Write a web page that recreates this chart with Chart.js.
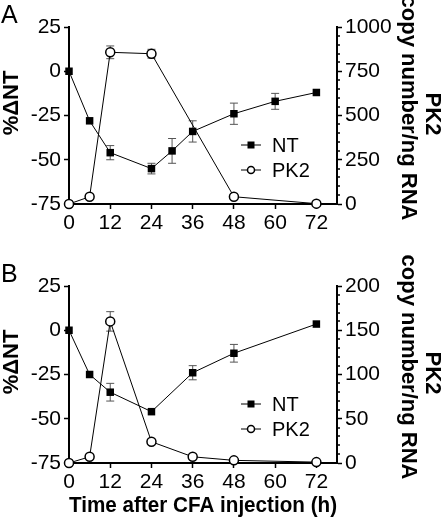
<!DOCTYPE html>
<html>
<head>
<meta charset="utf-8">
<script src="https://cdn.jsdelivr.net/npm/chart.js@4.4.1/dist/chart.umd.min.js"></script>
<style>
    body { margin: 0; background: #fff; }
    #wrap { position: relative; width: 445px; height: 525px; overflow: hidden; font-family: 'Liberation Sans', Arial, sans-serif; }
    .panel { position: absolute; left: 0; }
    .lbl { position: absolute; left: 1px; font-size: 25px; line-height: 25px; color: #000; }
</style>
</head>
<body>
<div id="wrap">
    <canvas id="chartA" class="panel" width="445" height="250" style="top:0"></canvas>
    <canvas id="chartB" class="panel" width="445" height="275" style="top:250px"></canvas>
    <div class="lbl" style="top:2px">A</div>
    <div class="lbl" style="top:261px">B</div>
</div>
<script>
// Panel A
const ntTimeA = [0, 6, 12, 24, 30, 36, 48, 60, 72];
const ntA = [0, -28, -46, -55, -45, -34, -24, -17, -12];
const ntErrA = [0, 0, 4, 3, 7, 6, 6, 4.5, 0];
const pk2TimeA = [0, 6, 12, 24, 48, 72];
const pk2A = [0, 41, 857, 849, 41, 2];
const pk2ErrA = [0, 0, 36, 25, 0, 0];

// Panel B
const ntTimeB = [0, 6, 12, 24, 36, 48, 72];
const ntB = [0, -25, -35, -46, -24, -13, 3.5];
const ntErrB = [0, 0, 5, 0, 4, 5, 0];
const pk2TimeB = [0, 6, 12, 24, 36, 48, 72];
const pk2B = [0, 7, 160, 24, 7, 3, 1];
const pk2ErrB = [0, 0, 11, 0, 0, 0, 0];

const xTicks = [0, 12, 24, 36, 48, 60, 72];
const seriesNames = ['NT', 'PK2'];
const leftTitle = '%\u0394NT';
const rightTitle = ['PK2', 'copy number/ng RNA'];
const xTitle = 'Time after CFA injection (h)';

Chart.defaults.font.family = "'Liberation Sans', Arial, sans-serif";
Chart.defaults.color = '#000';

// error bars drawn under the markers
const errorBars = {
    id: 'errorBars',
    beforeDatasetsDraw(chart) {
        const ctx = chart.ctx;
        ctx.save();
        ctx.strokeStyle = '#555';
        ctx.lineWidth = 1;
        chart.data.datasets.forEach((ds, i) => {
            const meta = chart.getDatasetMeta(i);
            const yScale = chart.scales[ds.yAxisID];
            ds.data.forEach((pt, j) => {
                const err = ds.errors[j];
                if (!err) return;
                const x = meta.data[j].x;
                const yTop = yScale.getPixelForValue(pt.y + err);
                const yBot = yScale.getPixelForValue(pt.y - err);
                ctx.beginPath();
                ctx.moveTo(x, yTop); ctx.lineTo(x, yBot);
                ctx.moveTo(x - 4, yTop); ctx.lineTo(x + 4, yTop);
                ctx.moveTo(x - 4, yBot); ctx.lineTo(x + 4, yBot);
                ctx.stroke();
            });
        });
        ctx.restore();
    }
};

// minor ticks on the right axis
const minorTicks = {
    id: 'minorTicks',
    afterDraw(chart, args, opts) {
        const s = chart.scales.y2;
        const ctx = chart.ctx;
        ctx.save();
        ctx.strokeStyle = '#000';
        ctx.lineWidth = 1.5;
        for (let v = s.min; v <= s.max; v += opts.step) {
            if (v % opts.major === 0) continue;
            const y = Math.round(s.getPixelForValue(v));
            ctx.beginPath();
            ctx.moveTo(chart.chartArea.right, y);
            ctx.lineTo(chart.chartArea.right + 3, y);
            ctx.stroke();
        }
        ctx.restore();
    }
};

// y axis titles, sitting a bit above the middle of the axes
const axisTitles = {
    id: 'axisTitles',
    afterDraw(chart) {
        const ctx = chart.ctx;
        const a = chart.chartArea;
        const put = (text, x, y, rot) => {
            ctx.save();
            ctx.translate(x, y);
            ctx.rotate(rot);
            ctx.fillText(text, 0, 0);
            ctx.restore();
        };
        ctx.save();
        ctx.font = "bold 22px 'Liberation Sans', Arial, sans-serif";
        ctx.fillStyle = '#000';
        ctx.textAlign = 'center';
        ctx.textBaseline = 'middle';
        put(leftTitle, 12, a.top + 76, -Math.PI / 2);
        put(rightTitle[0], 432, a.top + 87, Math.PI / 2);
        put(rightTitle[1], 408, a.top + 81, Math.PI / 2);
        ctx.restore();
    }
};

// legend inside the plot area
const insideLegend = {
    id: 'insideLegend',
    afterDraw(chart) {
        const ctx = chart.ctx;
        const a = chart.chartArea;
        ctx.save();
        chart.data.datasets.forEach((ds, i) => {
            const y = a.top + 118 + i * 25;
            const cx = a.left + 182;
            ctx.strokeStyle = '#000';
            ctx.lineWidth = 1;
            ctx.beginPath();
            ctx.moveTo(cx - 10, y); ctx.lineTo(cx + 10, y);
            ctx.stroke();
            if (ds.pointStyle === 'rect') {
                ctx.fillStyle = '#000';
                ctx.fillRect(cx - 3.5, y - 3.5, 7, 7);
            } else {
                ctx.fillStyle = '#fff';
                ctx.lineWidth = 1.5;
                ctx.beginPath();
                ctx.arc(cx, y, 3.5, 0, Math.PI * 2);
                ctx.fill();
                ctx.stroke();
            }
            ctx.fillStyle = '#000';
            ctx.font = "20px 'Liberation Sans', Arial, sans-serif";
            ctx.textBaseline = 'middle';
            ctx.fillText(ds.label, a.left + 203, y + 1);
        });
        ctx.restore();
    }
};

function makeChart(canvasId, nt, ntTime, ntErr, pk2, pk2Time, pk2Err, rightMax, rightStep, rightMinor, topPad, xHeight, showXTitle) {
    const axisGrid = { drawOnChartArea: false, color: '#000', tickLength: 5, tickWidth: 1.5 };
    const axisBorder = { color: '#000', width: 2 };
    const tickFont = { size: 21 };
    return new Chart(document.getElementById(canvasId).getContext('2d'), {
        type: 'line',
        data: {
            datasets: [
                {
                    label: seriesNames[0],
                    data: ntTime.map((t, i) => ({ x: t, y: nt[i] })),
                    errors: ntErr,
                    yAxisID: 'y',
                    borderColor: '#000',
                    borderWidth: 1,
                    pointStyle: 'rect',
                    pointRadius: 5.3,
                    pointBackgroundColor: '#000',
                    pointBorderColor: '#000',
                    pointBorderWidth: 0,
                    clip: false
                },
                {
                    label: seriesNames[1],
                    data: pk2Time.map((t, i) => ({ x: t, y: pk2[i] })),
                    errors: pk2Err,
                    yAxisID: 'y2',
                    borderColor: '#000',
                    borderWidth: 1,
                    pointStyle: 'circle',
                    pointRadius: 4.5,
                    pointBackgroundColor: '#fff',
                    pointBorderColor: '#000',
                    pointBorderWidth: 1.5,
                    clip: false
                }
            ]
        },
        options: {
            responsive: false,
            animation: false,
            layout: { padding: { top: topPad, left: 0, right: 0, bottom: 0 } },
            plugins: {
                legend: { display: false },
                tooltip: { enabled: false },
                minorTicks: { step: rightMinor, major: rightStep }
            },
            scales: {
                x: {
                    type: 'linear',
                    min: 0,
                    max: 78,
                    afterBuildTicks: s => { s.ticks = xTicks.map(v => ({ value: v })); },
                    afterFit: s => { s.height = xHeight; },
                    grid: axisGrid,
                    border: axisBorder,
                    ticks: { font: tickFont, padding: 2, maxRotation: 0, autoSkip: false },
                    title: {
                        display: showXTitle,
                        text: xTitle,
                        font: { size: 22, weight: 'bold' },
                        padding: { top: 0, bottom: 6 }
                    }
                },
                y: {
                    position: 'left',
                    min: -75,
                    max: 25,
                    ticks: { stepSize: 25, font: tickFont, padding: 3 },
                    afterFit: s => { s.width = 69; },
                    grid: axisGrid,
                    border: axisBorder
                },
                y2: {
                    position: 'right',
                    min: 0,
                    max: rightMax,
                    ticks: { stepSize: rightStep, font: tickFont, padding: 3, callback: v => String(v) },
                    afterFit: s => { s.width = 108; },
                    grid: axisGrid,
                    border: axisBorder
                }
            }
        },
        plugins: [errorBars, minorTicks, axisTitles, insideLegend]
    });
}

makeChart('chartA', ntA, ntTimeA, ntErrA, pk2A, pk2TimeA, pk2ErrA, 1000, 250, 50, 27, 46, false);
makeChart('chartB', ntB, ntTimeB, ntErrB, pk2B, pk2TimeB, pk2ErrB, 200, 50, 10, 36, 62, true);
</script>
</body>
</html>
